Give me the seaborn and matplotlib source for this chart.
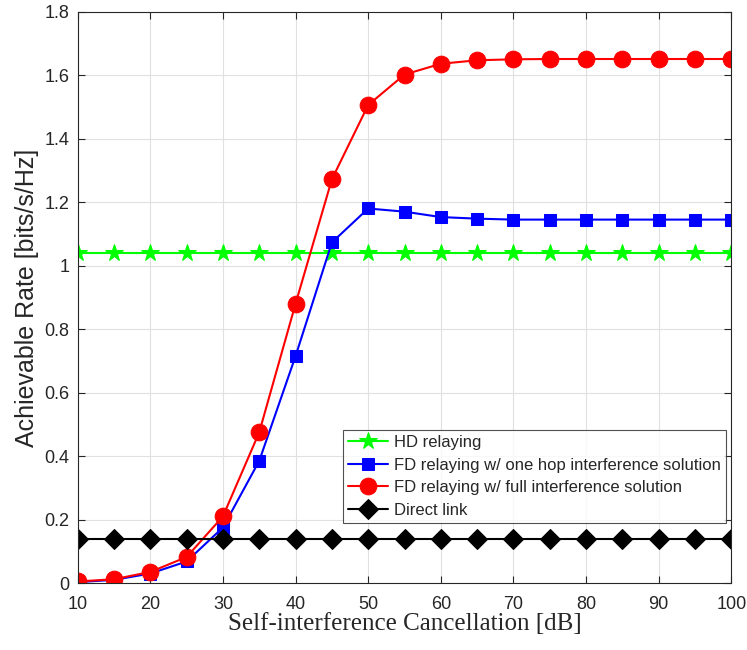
import numpy as np
import pandas as pd
import matplotlib
matplotlib.use("Agg")
import matplotlib.pyplot as plt
import seaborn as sns

# Self-interference cancellation levels [dB]
sic_db = [10, 15, 20, 25, 30, 35, 40, 45, 50, 55, 60, 65, 70, 75, 80, 85, 90, 95, 100]

hd_rate = [1.04] * 19
fd_one_hop = [0.003, 0.010, 0.030, 0.068, 0.175, 0.385, 0.715, 1.073, 1.180, 1.170,
              1.153, 1.148, 1.145, 1.145, 1.145, 1.145, 1.145, 1.145, 1.145]
fd_full = [0.005, 0.012, 0.035, 0.082, 0.210, 0.475, 0.880, 1.272, 1.506, 1.602,
           1.636, 1.647, 1.650, 1.651, 1.651, 1.651, 1.651, 1.651, 1.651]
direct_rate = [0.14] * 19

labels = ["HD relaying",
          "FD relaying w/ one hop interference solution",
          "FD relaying w/ full interference solution",
          "Direct link"]
colors = ["#00ff00", "#0000ff", "#ff0000", "#000000"]
markers = ["*", "s", "o", "D"]
msizes = [13, 9, 12, 10]

df = pd.concat([
    pd.DataFrame({"sic": sic_db, "rate": vals, "scheme": lab})
    for vals, lab in zip([hd_rate, fd_one_hop, fd_full, direct_rate], labels)
])

sns.set_style("white")
plt.rcParams["font.family"] = ["Liberation Sans", "DejaVu Sans"]

fig = plt.figure(figsize=(7.47, 6.5), dpi=100)
ax = fig.add_axes([0.104, 0.103, 0.875, 0.879])

for lab, c, m, ms in zip(labels, colors, markers, msizes):
    sns.lineplot(data=df[df["scheme"] == lab], x="sic", y="rate", color=c,
                 marker=m, markersize=ms, markeredgecolor=c, linewidth=1.5,
                 label=lab, ax=ax)

ax.set_xlim(10, 100)
ax.set_ylim(0, 1.8)
ax.set_xticks(np.arange(10, 101, 10))
ax.set_yticks(np.arange(0, 1.81, 0.2))
ax.set_yticklabels(["0", "0.2", "0.4", "0.6", "0.8", "1", "1.2", "1.4", "1.6", "1.8"])
ax.grid(True, color="#e0e0e0", linewidth=0.8)
ax.set_axisbelow(True)
ax.tick_params(direction="in", length=5, labelsize=13, colors="#262626",
               top=True, right=True, bottom=True, left=True)
ax.tick_params(axis="x", pad=9)
ax.tick_params(axis="y", pad=6)
for sp in ax.spines.values():
    sp.set_color("#262626")
    sp.set_linewidth(0.8)

ax.set_xlabel("Self-interference Cancellation [dB]", fontsize=18,
              family=["Liberation Serif", "DejaVu Serif"], labelpad=0)
ax.set_ylabel("Achievable Rate [bits/s/Hz]", fontsize=18, labelpad=4)

leg = ax.legend(loc="lower right", bbox_to_anchor=(0.9975, 0.1), fontsize=12,
                frameon=True, fancybox=False, edgecolor="#262626",
                borderpad=0.3, labelspacing=0.45, handlelength=2.4,
                handletextpad=0.4, borderaxespad=0.2)
leg.get_frame().set_linewidth(0.8)

fig.savefig("out.png", dpi=100)
